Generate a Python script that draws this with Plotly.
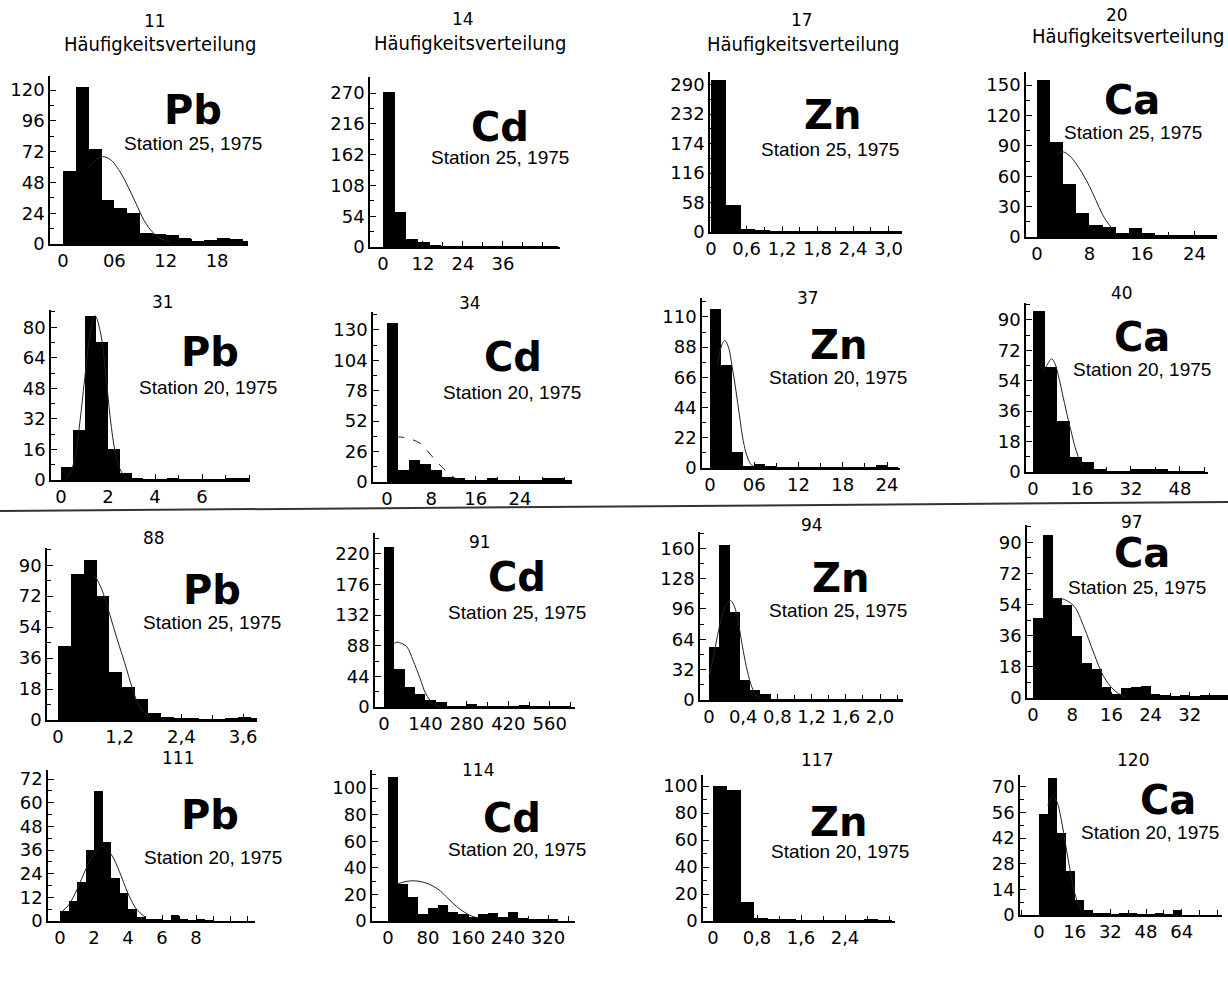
import plotly.graph_objects as go

W, H = 1228, 982

# ---------------- data ----------------
# each panel: histogram bin start, bin width, counts; fitted curve points; ticks
p11_start, p11_width = 0, 1.5
p11_counts = [57, 122, 74, 34, 28, 24, 8.5, 7.5, 7, 5, 2, 3, 5, 4, 2]
p11_cx = [3.0, 4.5, 5.5, 6.5, 7.5, 8.5, 9.5, 10.5, 11.5, 12.5]
p11_cy = [60, 68, 66, 58, 46, 32, 18, 9, 4, 1.5]
p11_yt = [0, 24, 48, 72, 96, 120]
p11_xt = [0, 6, 12, 18]
p11_xl = ["0", "06", "12", "18"]

p14_start, p14_width = 0, 3.5
p14_counts = [272, 62, 14, 9, 3, 1, 1, 0.5, 1, 0.5, 1, 0.5, 1, 1.5, 0.5]
p14_cx, p14_cy = [], []
p14_yt = [0, 54, 108, 162, 216, 270]
p14_xt = [0, 12, 24, 36]
p14_xl = ["0", "12", "24", "36"]

p17_start, p17_width = 0, 0.25
p17_counts = [300, 54, 5, 2, 1, 1, 1, 1, 0.5, 1, 1, 1, 0.5]
p17_cx, p17_cy = [], []
p17_yt = [0, 58, 116, 174, 232, 290]
p17_xt = [0, 0.6, 1.2, 1.8, 2.4, 3.0]
p17_xl = ["0", "0,6", "1,2", "1,8", "2,4", "3,0"]

p20_start, p20_width = 0, 2
p20_counts = [155, 94, 52, 24, 12, 10, 4, 9, 4, 1, 1, 1, 1, 1]
p20_cx = [3, 4, 5, 6, 7, 8, 9, 10, 11, 12]
p20_cy = [82, 84, 80, 72, 62, 50, 36, 22, 12, 5]
p20_yt = [0, 30, 60, 90, 120, 150]
p20_xt = [0, 8, 16, 24]
p20_xl = ["0", "8", "16", "24"]

p31_start, p31_width = 0, 0.5
p31_counts = [7, 26, 86, 72, 16, 3.5, 1, 0.5, 0.5, 1, 0.5, 0.5, 0.5, 0.5, 1, 1]
p31_cx = [0.2, 0.4, 0.6, 0.8, 1.0, 1.2, 1.45, 1.7, 1.9, 2.1, 2.3, 2.5, 2.7, 2.9]
p31_cy = [1, 4, 12, 30, 52, 73, 86, 76, 56, 32, 15, 6, 2, 0.5]
p31_yt = [0, 16, 32, 48, 64, 80]
p31_xt = [0, 2, 4, 6]
p31_xl = ["0", "2", "4", "6"]

p34_start, p34_width = 0, 2
p34_counts = [136, 10, 19, 15, 10, 4, 3, 2, 2, 3, 1, 1, 2, 2, 3, 3, 1]
p34_cx = [1.5, 2.3, 4, 6, 8.3, 10.5, 12, 13.5]
p34_cy = [38, 38.5, 37, 33, 21, 10, 4, 1]
p34_yt = [0, 26, 52, 78, 104, 130]
p34_xt = [0, 8, 16, 24]
p34_xl = ["0", "8", "16", "24"]

p37_start, p37_width = 0, 1.5
p37_counts = [116, 75, 12, 1, 3, 1.5, 0.5, 0.5, 0.5, 0.5, 0.5, 0.5, 0.5, 0.5, 0.5, 2, 0.5]
p37_cx = [1.0, 1.5, 2.0, 2.5, 3.0, 3.5, 4.0, 4.5, 5.0, 5.5, 6.0]
p37_cy = [75, 88, 93, 88, 74, 57, 38, 20, 9, 3, 0.5]
p37_yt = [0, 22, 44, 66, 88, 110]
p37_xt = [0, 6, 12, 18, 24]
p37_xl = ["0", "06", "12", "18", "24"]

p40_start, p40_width = 0, 4
p40_counts = [95, 62, 30, 9, 6, 2, 0.5, 0.5, 1.5, 1.5, 1.5, 0.5, 0.5, 0.5]
p40_cx = [3.4, 4.5, 6.1, 7.2, 8.3, 9.9, 11.5, 12.6, 13.7, 14.8, 16.4]
p40_cy = [60, 63, 67, 64, 57, 44, 31, 23, 15, 9, 3]
p40_yt = [0, 18, 36, 54, 72, 90]
p40_xt = [0, 16, 32, 48]
p40_xl = ["0", "16", "32", "48"]

p88_start, p88_width = 0, 0.25
p88_counts = [43, 85, 93, 72, 28, 19, 12, 4, 2, 1, 1, 0.5, 0.5, 1, 1.5, 1]
p88_cx = [0.72, 0.85, 1.0, 1.15, 1.3, 1.45, 1.55, 1.65, 1.8]
p88_cy = [84, 76, 62, 47, 33, 18, 10, 5, 1.5]
p88_yt = [0, 18, 36, 54, 72, 90]
p88_xt = [0, 1.2, 2.4, 3.6]
p88_xl = ["0", "1,2", "2,4", "3,6"]

p91_start, p91_width = 0, 35
p91_counts = [230, 55, 29, 19, 10, 7, 1, 1, 4, 1, 0.5, 0.5, 1, 2, 0.5, 0.5, 1, 1]
p91_cx = [35, 44, 60, 78, 98, 122, 139, 155, 172, 190]
p91_cy = [91, 93, 91, 86, 67, 41, 21, 10, 3, 0.5]
p91_yt = [0, 44, 88, 132, 176, 220]
p91_xt = [0, 140, 280, 420, 560]
p91_xl = ["0", "140", "280", "420", "560"]

p94_start, p94_width = 0, 0.12
p94_counts = [56, 163, 93, 21, 10.5, 6, 0.5, 0.5, 1, 0.5, 0.5, 0.5, 1, 0.5, 0.5, 0.5, 1, 0.5, 0.5]
p94_cx = [0.0, 0.05, 0.1, 0.15, 0.2, 0.25, 0.3, 0.35, 0.4, 0.45, 0.5, 0.55, 0.6]
p94_cy = [25, 45, 68, 88, 100, 105, 98, 78, 52, 30, 14, 5, 1.5]
p94_yt = [0, 32, 64, 96, 128, 160]
p94_xt = [0, 0.4, 0.8, 1.2, 1.6, 2.0]
p94_xl = ["0", "0,4", "0,8", "1,2", "1,6", "2,0"]

p97_start, p97_width = 0, 2
p97_counts = [46, 94, 58, 54, 36, 20, 17, 6.5, 2.5, 6, 6.5, 7, 2.5, 1.5, 1, 1.5, 1, 1.5, 2, 1.5]
p97_cx = [4, 5, 6.3, 8.4, 10.4, 12.4, 14.4, 16.4, 17.8, 19]
p97_cy = [57, 57.5, 57, 53, 41, 26, 12.5, 5, 2, 0.5]
p97_yt = [0, 18, 36, 54, 72, 90]
p97_xt = [0, 8, 16, 24, 32]
p97_xl = ["0", "8", "16", "24", "32"]

p111_start, p111_width = 0, 0.5
p111_counts = [5, 10, 20, 36, 66, 40, 22, 14, 6, 2, 1, 1, 0.5, 3, 1, 0.5, 1, 0.5]
p111_cx = [0, 0.5, 1.0, 1.5, 2.0, 2.5, 3.0, 3.5, 4.0, 4.5, 5.0]
p111_cy = [4, 8, 16, 26, 34, 38, 34, 25, 14, 6, 2]
p111_yt = [0, 12, 24, 36, 48, 60, 72]
p111_xt = [0, 2, 4, 6, 8]
p111_xl = ["0", "2", "4", "6", "8"]

p114_start, p114_width = 0, 20
p114_counts = [108, 28, 18, 5, 10, 12, 7, 5, 3, 5, 6, 3, 7, 2, 1, 1, 1]
p114_cx = [20, 40, 60, 80, 100, 120, 140, 160, 180]
p114_cy = [28, 30, 30, 28, 24, 17, 10, 5, 2]
p114_yt = [0, 20, 40, 60, 80, 100]
p114_xt = [0, 80, 160, 240, 320]
p114_xl = ["0", "80", "160", "240", "320"]

p117_start, p117_width = 0, 0.25
p117_counts = [100, 97, 14, 2, 1, 1, 0.5, 0.5, 0.5, 0.5, 0.5, 1, 0.5]
p117_cx, p117_cy = [], []
p117_yt = [0, 20, 40, 60, 80, 100]
p117_xt = [0, 0.8, 1.6, 2.4]
p117_xl = ["0", "0,8", "1,6", "2,4"]

p120_start, p120_width = 0, 4
p120_counts = [55, 75, 45, 24, 8, 3, 1, 1, 0.5, 1, 1, 0.5, 0.5, 1, 0.5, 3]
p120_cx = [4, 6, 8, 10, 12, 14, 16, 18, 20]
p120_cy = [60, 65, 62, 52, 38, 24, 12, 5, 1]
p120_yt = [0, 14, 28, 42, 56, 70]
p120_xt = [0, 16, 32, 48, 64]
p120_xl = ["0", "16", "32", "48", "64"]

numbers = ["11", "14", "17", "20", "31", "34", "37", "40",
           "88", "91", "94", "97", "111", "114", "117", "120"]
elements = ["Pb", "Cd", "Zn", "Ca"] * 4
stations = (["Station 25, 1975"] * 4 + ["Station 20, 1975"] * 4
            + ["Station 25, 1975"] * 4 + ["Station 20, 1975"] * 4)
heading = "Häufigkeitsverteilung"

data = [
    (p11_start, p11_width, p11_counts, p11_cx, p11_cy, p11_yt, p11_xt, p11_xl),
    (p14_start, p14_width, p14_counts, p14_cx, p14_cy, p14_yt, p14_xt, p14_xl),
    (p17_start, p17_width, p17_counts, p17_cx, p17_cy, p17_yt, p17_xt, p17_xl),
    (p20_start, p20_width, p20_counts, p20_cx, p20_cy, p20_yt, p20_xt, p20_xl),
    (p31_start, p31_width, p31_counts, p31_cx, p31_cy, p31_yt, p31_xt, p31_xl),
    (p34_start, p34_width, p34_counts, p34_cx, p34_cy, p34_yt, p34_xt, p34_xl),
    (p37_start, p37_width, p37_counts, p37_cx, p37_cy, p37_yt, p37_xt, p37_xl),
    (p40_start, p40_width, p40_counts, p40_cx, p40_cy, p40_yt, p40_xt, p40_xl),
    (p88_start, p88_width, p88_counts, p88_cx, p88_cy, p88_yt, p88_xt, p88_xl),
    (p91_start, p91_width, p91_counts, p91_cx, p91_cy, p91_yt, p91_xt, p91_xl),
    (p94_start, p94_width, p94_counts, p94_cx, p94_cy, p94_yt, p94_xt, p94_xl),
    (p97_start, p97_width, p97_counts, p97_cx, p97_cy, p97_yt, p97_xt, p97_xl),
    (p111_start, p111_width, p111_counts, p111_cx, p111_cy, p111_yt, p111_xt, p111_xl),
    (p114_start, p114_width, p114_counts, p114_cx, p114_cy, p114_yt, p114_xt, p114_xl),
    (p117_start, p117_width, p117_counts, p117_cx, p117_cy, p117_yt, p117_xt, p117_xl),
    (p120_start, p120_width, p120_counts, p120_cx, p120_cy, p120_yt, p120_xt, p120_xl),
]

# ---------------- layout geometry (pixels) ----------------
# L, R: x-axis span; T, B: y-axis span; Z: pixel of x=0; sx, sy: px per unit
geom = [
    (50, 248, 76, 244, 63, 8.56, 1.283),
    (370, 560, 77, 247, 383, 3.33, 0.570),
    (710, 902, 72, 232, 711, 59.2, 0.508),
    (1026, 1217, 72, 237, 1037, 6.56, 1.013),
    (51, 250, 310, 480, 61, 23.5, 1.91),
    (373, 572, 312, 482, 387, 5.54, 1.17),
    (702, 900, 298, 468, 710, 7.375, 1.373),
    (1026, 1208, 303, 472, 1033, 3.06, 1.69),
    (47, 257, 548, 720, 58, 51.4, 1.72),
    (375, 575, 533, 707, 384, 0.296, 0.697),
    (700, 903, 532, 700, 709, 85.5, 0.948),
    (1027, 1228, 525, 698, 1033, 4.9, 1.73),
    (48, 255, 770, 921, 60, 17, 1.97),
    (372, 575, 770, 921, 388, 0.5, 1.33),
    (703, 895, 775, 921, 713, 55, 1.35),
    (1020, 1222, 775, 915, 1039, 2.23, 1.83),
]
# text positions (px): number label, element symbol, station text
num_pos = [(155, 21), (463, 19), (802, 20), (1117, 15),
           (163, 302), (470, 303), (808, 298), (1122, 293),
           (154, 538), (480, 542), (812, 525), (1132, 522),
           (178, 758), (478, 770), (817, 760), (1133, 760)]
el_pos = [(193, 110), (500, 127), (832, 115), (1132, 100),
          (210, 352), (513, 357), (838, 345), (1142, 337),
          (212, 590), (517, 577), (840, 578), (1142, 553),
          (210, 815), (512, 818), (838, 822), (1168, 800)]
st_pos = [(193, 143), (500, 157), (830, 150), (1133, 133),
          (208, 387), (512, 392), (838, 377), (1142, 369),
          (212, 622), (517, 612), (838, 610), (1137, 587),
          (213, 857), (517, 849), (840, 851), (1150, 832)]
head_pos = [(160, 44), (470, 43), (803, 44), (1128, 36)]

COND = "DejaVu Sans Condensed, Liberation Sans Narrow, DejaVu Sans"
TICKFONT = dict(family="DejaVu Sans", size=18, color="black")
NUMFONT = dict(family="DejaVu Sans", size=17, color="black")
ELFONT = dict(family="DejaVu Sans", size=40, color="black", weight="bold")
STFONT = dict(family="Liberation Sans, Arial, sans-serif", size=19, color="black")
HEADFONT = dict(family=COND, size=20, color="black")

fig = go.Figure()
layout = {}
annotations = []

for i, (start, width, counts, cx, cy, yt, xt, xl) in enumerate(data):
    L, R, T, B, Z, sx, sy = geom[i]
    n = i + 1
    xa = "x" if n == 1 else f"x{n}"
    ya = "y" if n == 1 else f"y{n}"
    centers = [start + width * (k + 0.5) for k in range(len(counts))]
    fig.add_trace(go.Bar(x=centers, y=counts, width=width,
                         marker=dict(color="black", line=dict(width=0)),
                         xaxis=xa, yaxis=ya, showlegend=False, hoverinfo="skip"))
    if cx:
        fig.add_trace(go.Scatter(x=cx, y=cy, mode="lines",
                                 line=dict(color="#222", width=1, shape="spline",
                                           dash="dash" if n == 6 else "solid"),
                                 xaxis=xa, yaxis=ya, showlegend=False, hoverinfo="skip"))
    xstep = xt[1] - xt[0]
    ystep = yt[1] - yt[0]
    layout["xaxis" if n == 1 else f"xaxis{n}"] = dict(
        domain=[L / W, R / W], range=[(L - Z) / sx, (R - Z) / sx], anchor=ya,
        automargin=False,
        showline=True, linecolor="black", linewidth=1.5, mirror=False,
        ticks="inside", ticklen=6, tickwidth=1, tickcolor="black",
        tickvals=xt, ticktext=xl, tickfont=TICKFONT,
        minor=dict(ticks="inside", ticklen=5, dtick=xstep / 2, tick0=0, tickcolor="black"),
        showgrid=False, zeroline=False, fixedrange=True)
    layout["yaxis" if n == 1 else f"yaxis{n}"] = dict(
        domain=[1 - B / H, 1 - T / H], range=[0, (B - T) / sy], anchor=xa,
        automargin=False,
        showline=True, linecolor="black", linewidth=1.5,
        ticks="inside", ticklen=6, tickwidth=1, tickcolor="black",
        tickvals=yt, tickfont=TICKFONT,
        minor=dict(ticks="inside", ticklen=4, dtick=ystep / 2, tick0=0, tickcolor="black"),
        showgrid=False, zeroline=False, fixedrange=True)

    px, py = num_pos[i]
    annotations.append(dict(x=px / W, y=1 - py / H, xref="paper", yref="paper",
                            text=numbers[i], showarrow=False, font=NUMFONT,
                            xanchor="center", yanchor="middle"))
    px, py = el_pos[i]
    annotations.append(dict(x=px / W, y=1 - py / H, xref="paper", yref="paper",
                            text=elements[i], showarrow=False, font=ELFONT,
                            xanchor="center", yanchor="middle"))
    px, py = st_pos[i]
    annotations.append(dict(x=px / W, y=1 - py / H, xref="paper", yref="paper",
                            text=stations[i], showarrow=False, font=STFONT,
                            xanchor="center", yanchor="middle"))

for px, py in head_pos:
    annotations.append(dict(x=px / W, y=1 - py / H, xref="paper", yref="paper",
                            text=heading, showarrow=False, font=HEADFONT,
                            xanchor="center", yanchor="middle"))

fig.update_layout(**layout)
fig.update_layout(
    width=W, height=H, margin=dict(l=0, r=0, t=0, b=0, autoexpand=False),
    paper_bgcolor="white", plot_bgcolor="white",
    annotations=annotations, bargap=0,
    shapes=[dict(type="line", xref="paper", yref="paper",
                 x0=0, y0=1 - 511 / H, x1=1, y1=1 - 502 / H,
                 line=dict(color="#333", width=2))],
)

fig.write_html("out.html", config={"displayModeBar": False},
               post_script="document.body.style.margin='0';document.body.style.overflow='hidden';")
